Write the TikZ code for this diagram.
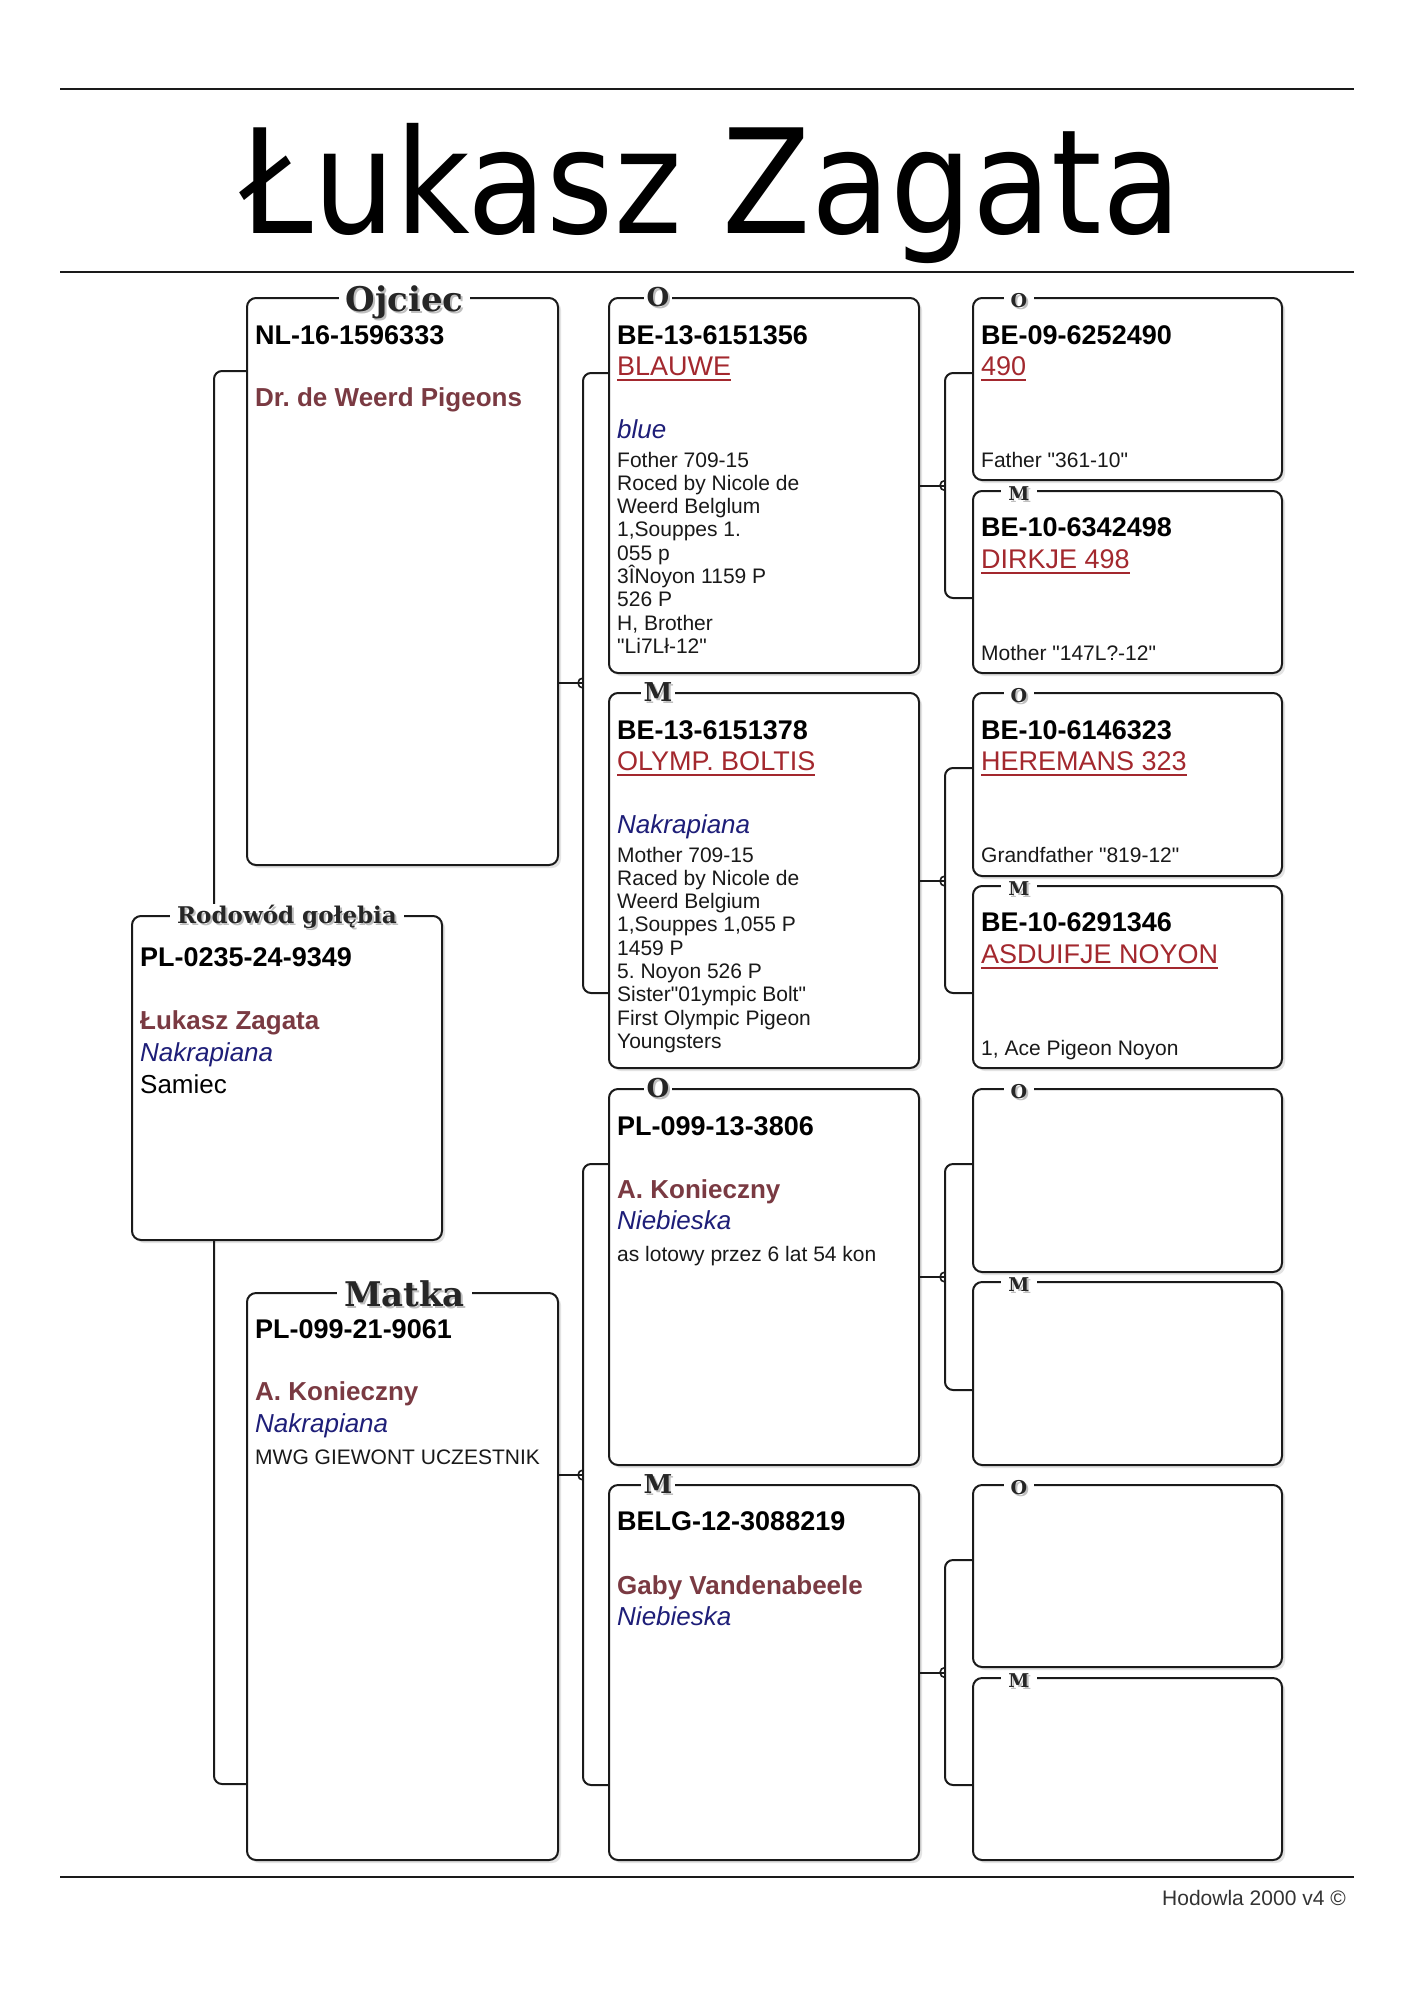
\documentclass[tikz,border=0pt]{standalone}
\usepackage{fontspec}
\setmainfont{Liberation Sans}[Ligatures=TeXOff]
\newfontfamily\titlefont[FakeStretch=0.89]{DejaVu Sans}
\newfontfamily\lblfont{DejaVu Serif}
\usetikzlibrary{shadows,calc}
\definecolor{pname}{HTML}{A3282E}
\definecolor{breed}{HTML}{7A3A42}
\definecolor{navy}{HTML}{1E1E78}
\definecolor{frame}{HTML}{1A1A1A}
\frenchspacing
\newcommand\shd[1]{\makebox[0pt][l]{\raisebox{-2pt}{\hspace{2pt}\textcolor{black!25}{#1}}}#1}
\newcommand\tx[5]{\node[anchor=base west, inner sep=0pt, #4] (#1) at ([xshift=9pt, yshift=-#3pt]#2.north west) {#5};}
\newcommand\ulx[1]{\draw[draw=pname, line width=1.8pt] ([yshift=-5pt]#1.base west) -- ([yshift=-5pt]#1.base east);}
\newcommand\bracket[5]{%
  \coordinate (#5) at ($(#2.south west)!0.5!(#3.north west)+(-#4pt,0)$);
  \coordinate (#5u) at ([yshift=-76pt]#2.north west);
  \coordinate (#5l) at ([yshift=76pt]#3.south west);
  \draw[conn] (#5u) -| (#5) |- (#5l);
  \draw[conn] (#1.east |- #5) -- (#5);
  \draw[jmark] ([yshift=5pt]#5) arc[start angle=90,end angle=270,radius=5pt];
}
\tikzset{
  pbox/.style={draw=frame, line width=2pt, rounded corners=9pt, fill=white,
    drop shadow={shadow xshift=3pt, shadow yshift=-3pt, opacity=0.22},
    inner sep=0pt, anchor=north west},
  conn/.style={draw=frame, line width=2pt, rounded corners=8pt},
  jmark/.style={draw=frame, line width=1.6pt},
  rulel/.style={draw=frame, line width=2.2pt},
  biglbl/.style={font=\lblfont\bfseries\fontsize{34}{34}\selectfont, fill=white, inner xsep=7pt, inner ysep=1pt, text=black!85, anchor=base},
  sublbl/.style={font=\lblfont\bfseries\fontsize{23}{23}\selectfont, fill=white, inner xsep=7pt, inner ysep=1pt, text=black!85, anchor=base},
  midlbl/.style={font=\lblfont\bfseries\fontsize{26}{26}\selectfont, fill=white, inner xsep=3pt, inner ysep=1pt, text=black!85, anchor=base},
  smlbl/.style={font=\lblfont\bfseries\fontsize{19}{19}\selectfont, fill=white, inner xsep=7pt, inner ysep=1pt, text=black!85, anchor=base},
  ring/.style={font=\bfseries\fontsize{27}{27}\selectfont, text=black},
  pnm/.style={font=\fontsize{27}{27}\selectfont, text=pname},
  breeder/.style={font=\bfseries\fontsize{26}{26}\selectfont, text=breed},
  colr/.style={font=\itshape\fontsize{26}{26}\selectfont, text=navy},
  plain/.style={font=\fontsize{26}{26}\selectfont, text=black},
  cmt/.style={font=\fontsize{21}{23.3}\selectfont, text=black!90},
}
\begin{document}
\begin{tikzpicture}[x=1pt,y=-1pt]
\useasboundingbox (0,0) rectangle (1414,2000);
\fill[white] (0,0) rectangle (1414,2000);

% rules and title
\draw[rulel] (60,89) -- (1354,89);
\draw[rulel] (60,272) -- (1354,272);
\draw[rulel] (60,1877) -- (1354,1877);
\node[font=\titlefont\fontsize{145}{145}\selectfont, anchor=base, inner sep=0pt] (title) at (711,233) {Łukasz Zagata};
\node[anchor=base east, inner sep=0pt, font=\fontsize{21}{21}\selectfont, text=black!80] (foot) at (1346,1905) {Hodowla 2000 v4 ©};

% boxes
\node[pbox, minimum width=310pt, minimum height=324pt] (S) at (131,915) {};
\node[pbox, minimum width=311pt, minimum height=567pt] (F) at (246,297) {};
\node[pbox, minimum width=311pt, minimum height=567pt] (M) at (246,1292) {};
\node[pbox, minimum width=310pt, minimum height=375pt] (O1) at (608,297) {};
\node[pbox, minimum width=310pt, minimum height=375pt] (M1) at (608,692) {};
\node[pbox, minimum width=310pt, minimum height=376pt] (O2) at (608,1088) {};
\node[pbox, minimum width=310pt, minimum height=375pt] (M2) at (608,1484) {};
\node[pbox, minimum width=309pt, minimum height=182pt] (B1) at (972,297) {};
\node[pbox, minimum width=309pt, minimum height=182pt] (B2) at (972,490) {};
\node[pbox, minimum width=309pt, minimum height=183pt] (B3) at (972,692) {};
\node[pbox, minimum width=309pt, minimum height=182pt] (B4) at (972,885) {};
\node[pbox, minimum width=309pt, minimum height=183pt] (B5) at (972,1088) {};
\node[pbox, minimum width=309pt, minimum height=183pt] (B6) at (972,1281) {};
\node[pbox, minimum width=309pt, minimum height=182pt] (B7) at (972,1484) {};
\node[pbox, minimum width=309pt, minimum height=182pt] (B8) at (972,1677) {};

% connectors
\coordinate (Fa) at ([yshift=-74pt]F.north west);
\coordinate (Ma) at ([yshift=77pt]M.south west);
\coordinate (St) at ([xshift=83pt]S.north west);
\coordinate (Sb) at ([xshift=83pt]S.south west);
\draw[conn] (Fa) -| (St);
\draw[conn] (Sb) |- (Ma);
\bracket{F}{O1}{M1}{25}{J1}
\bracket{M}{O2}{M2}{25}{J2}
\bracket{O1}{B1}{B2}{27}{J3}
\bracket{M1}{B3}{B4}{27}{J4}
\bracket{O2}{B5}{B6}{27}{J5}
\bracket{M2}{B7}{B8}{27}{J6}

% labels
\node[sublbl] (Sl) at ([yshift=-8pt]S.north) {\shd{Rodowód gołębia}};
\node[biglbl] (Fl) at ([xshift=2pt,yshift=-14pt]F.north) {\shd{Ojciec}};
\node[biglbl] (Ml) at ([xshift=2pt,yshift=-14pt]M.north) {\shd{Matka}};
\node[midlbl] (O1l) at ([xshift=50pt,yshift=-9pt]O1.north west) {\shd{O}};
\node[midlbl] (M1l) at ([xshift=50pt,yshift=-9pt]M1.north west) {\shd{M}};
\node[midlbl] (O2l) at ([xshift=50pt,yshift=-9pt]O2.north west) {\shd{O}};
\node[midlbl] (M2l) at ([xshift=50pt,yshift=-9pt]M2.north west) {\shd{M}};
\node[smlbl] (B1l) at ([xshift=47pt,yshift=-10pt]B1.north west) {\shd{O}};
\node[smlbl] (B2l) at ([xshift=47pt,yshift=-10pt]B2.north west) {\shd{M}};
\node[smlbl] (B3l) at ([xshift=47pt,yshift=-10pt]B3.north west) {\shd{O}};
\node[smlbl] (B4l) at ([xshift=47pt,yshift=-10pt]B4.north west) {\shd{M}};
\node[smlbl] (B5l) at ([xshift=47pt,yshift=-10pt]B5.north west) {\shd{O}};
\node[smlbl] (B6l) at ([xshift=47pt,yshift=-10pt]B6.north west) {\shd{M}};
\node[smlbl] (B7l) at ([xshift=47pt,yshift=-10pt]B7.north west) {\shd{O}};
\node[smlbl] (B8l) at ([xshift=47pt,yshift=-10pt]B8.north west) {\shd{M}};

% subject
\tx{S1}{S}{51}{ring}{PL-0235-24-9349}
\tx{S2}{S}{114}{breeder}{Łukasz Zagata}
\tx{S3}{S}{146}{colr}{Nakrapiana}
\tx{S4}{S}{178}{plain}{Samiec}

% father
\tx{F1}{F}{47}{ring}{NL-16-1596333}
\tx{F2}{F}{109}{breeder}{Dr. de Weerd Pigeons}

% mother
\tx{M1t}{M}{46}{ring}{PL-099-21-9061}
\tx{M2t}{M}{108}{breeder}{A. Konieczny}
\tx{M3t}{M}{140}{colr}{Nakrapiana}
\tx{M4t}{M}{172}{cmt}{MWG GIEWONT UCZESTNIK}

% O1
\tx{O1a}{O1}{47}{ring}{BE-13-6151356}
\tx{O1b}{O1}{78}{pnm}{BLAUWE}
\ulx{O1b}
\tx{O1c}{O1}{141}{colr}{blue}
\tx{O1d}{O1}{170}{cmt}{\vtop{\hbox{Fother 709-15}\hbox{Roced by Nicole de}\hbox{Weerd Belglum}\hbox{1,Souppes 1.}\hbox{055 p}\hbox{3ÎNoyon 1159 P}\hbox{526 P}\hbox{H, Brother}\hbox{"Li7Lł-12"}}}

% M1
\tx{M1a}{M1}{47}{ring}{BE-13-6151378}
\tx{M1b}{M1}{78}{pnm}{OLYMP. BOLTIS}
\ulx{M1b}
\tx{M1c}{M1}{141}{colr}{Nakrapiana}
\tx{M1d}{M1}{170}{cmt}{\vtop{\hbox{Mother 709-15}\hbox{Raced by Nicole de}\hbox{Weerd Belgium}\hbox{1,Souppes 1,055 P}\hbox{1459 P}\hbox{5. Noyon 526 P}\hbox{Sister"01ympic Bolt"}\hbox{First Olympic Pigeon}\hbox{Youngsters}}}

% O2
\tx{O2a}{O2}{47}{ring}{PL-099-13-3806}
\tx{O2b}{O2}{110}{breeder}{A. Konieczny}
\tx{O2c}{O2}{141}{colr}{Niebieska}
\tx{O2d}{O2}{173}{cmt}{as lotowy przez 6 lat 54 kon}

% M2
\tx{M2a}{M2}{46}{ring}{BELG-12-3088219}
\tx{M2b}{M2}{110}{breeder}{Gaby Vandenabeele}
\tx{M2c}{M2}{141}{colr}{Niebieska}

% great-grandparents
\tx{B1a}{B1}{47}{ring}{BE-09-6252490}
\tx{B1b}{B1}{78}{pnm}{490}
\ulx{B1b}
\tx{B1c}{B1}{170}{cmt}{Father "361-10"}
\tx{B2a}{B2}{46}{ring}{BE-10-6342498}
\tx{B2b}{B2}{78}{pnm}{DIRKJE 498}
\ulx{B2b}
\tx{B2c}{B2}{170}{cmt}{Mother "147L?-12"}
\tx{B3a}{B3}{47}{ring}{BE-10-6146323}
\tx{B3b}{B3}{78}{pnm}{HEREMANS 323}
\ulx{B3b}
\tx{B3c}{B3}{170}{cmt}{Grandfather "819-12"}
\tx{B4a}{B4}{46}{ring}{BE-10-6291346}
\tx{B4b}{B4}{78}{pnm}{ASDUIFJE NOYON}
\ulx{B4b}
\tx{B4c}{B4}{170}{cmt}{1, Ace Pigeon Noyon}
\end{tikzpicture}
\end{document}
